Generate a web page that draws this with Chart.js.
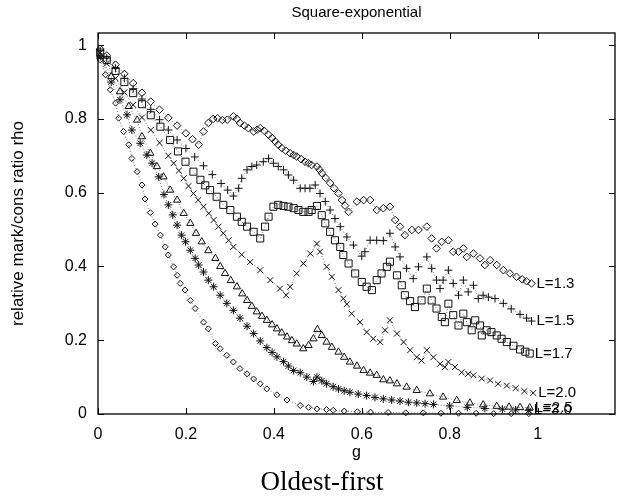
<!DOCTYPE html>
<html>
<head>
<meta charset="utf-8">
<script src="https://cdn.jsdelivr.net/npm/chart.js@4.4.1/dist/chart.umd.min.js"></script>
<style>
  html, body { margin: 0; padding: 0; background: #fff; }
  #wrap { width: 621px; height: 502px; }
</style>
</head>
<body>
<div id="wrap"><canvas id="chart" width="621" height="502"></canvas></div>
<script>
// values: [g, rho]
const l13 = [[0.005,0.99],[0.02,0.972],[0.04,0.947],[0.06,0.922],[0.08,0.897],[0.1,0.871],[0.12,0.847],[0.14,0.825],[0.16,0.803],[0.18,0.782],[0.2,0.761],[0.215,0.745],[0.229,0.73],
  [0.24,0.766],[0.251,0.789],[0.262,0.8],[0.272,0.802],[0.283,0.797],[0.294,0.798],[0.308,0.807],[0.316,0.8],[0.323,0.789],[0.333,0.782],[0.342,0.775],[0.354,0.766],[0.362,0.771],[0.369,0.775],[0.378,0.768],[0.388,0.757],[0.396,0.748],[0.403,0.739],[0.41,0.73],[0.418,0.721],[0.427,0.714],[0.437,0.707],[0.445,0.702],[0.452,0.698],[0.462,0.691],[0.471,0.684],[0.479,0.68],[0.486,0.675],[0.498,0.671],[0.504,0.662],[0.509,0.653],[0.518,0.64],[0.528,0.626],[0.537,0.612],[0.547,0.598],[0.555,0.58],[0.562,0.565],[0.57,0.548],
  [0.589,0.576],[0.604,0.58],[0.619,0.58],[0.634,0.553],[0.649,0.558],[0.664,0.562],[0.676,0.526],[0.687,0.508],[0.698,0.485],[0.714,0.499],[0.729,0.499],[0.748,0.508],[0.759,0.476],[0.77,0.449],[0.782,0.467],[0.797,0.471],[0.808,0.44],[0.82,0.44],[0.831,0.449],[0.839,0.426],[0.854,0.435],[0.869,0.422],[0.88,0.404],[0.892,0.417],[0.907,0.404],[0.922,0.39],[0.937,0.381],[0.952,0.372],[0.965,0.365],[0.975,0.36],[0.986,0.354]];

const l15 = [[0.005,0.985],[0.02,0.965],[0.04,0.937],[0.06,0.91],[0.08,0.882],[0.1,0.854],[0.12,0.826],[0.14,0.798],[0.16,0.77],[0.18,0.743],[0.2,0.72],[0.22,0.697],[0.24,0.673],[0.26,0.649],[0.28,0.625],[0.295,0.607],[0.308,0.591],
  [0.32,0.612],[0.327,0.639],[0.339,0.662],[0.35,0.671],[0.361,0.675],[0.376,0.684],[0.388,0.693],[0.399,0.68],[0.41,0.671],[0.422,0.662],[0.433,0.648],[0.445,0.634],[0.46,0.612],[0.471,0.612],[0.482,0.612],[0.494,0.621],[0.505,0.598],[0.517,0.576],[0.528,0.553],[0.539,0.53],[0.551,0.508],[0.566,0.48],[0.581,0.458],[0.6,0.428],
  [0.607,0.44],[0.619,0.471],[0.634,0.471],[0.649,0.47],[0.664,0.49],[0.676,0.453],[0.687,0.426],[0.702,0.395],[0.717,0.367],[0.729,0.399],[0.748,0.426],[0.759,0.395],[0.77,0.363],[0.778,0.34],[0.785,0.363],[0.797,0.39],[0.808,0.354],[0.82,0.322],[0.831,0.363],[0.842,0.331],[0.854,0.349],[0.865,0.313],[0.876,0.322],[0.888,0.317],[0.903,0.313],[0.922,0.3],[0.94,0.285],[0.96,0.27],[0.975,0.26],[0.986,0.252]];

const l17 = [[0.005,0.98],[0.02,0.96],[0.04,0.93],[0.06,0.9],[0.08,0.87],[0.1,0.84],[0.12,0.81],[0.142,0.779],[0.164,0.743],[0.182,0.712],[0.199,0.684],[0.217,0.657],[0.233,0.635],[0.244,0.62],[0.255,0.607],[0.27,0.589],[0.285,0.567],[0.301,0.553],[0.316,0.535],[0.327,0.521],[0.339,0.508],[0.354,0.494],[0.369,0.476],
  [0.38,0.508],[0.388,0.535],[0.399,0.562],[0.41,0.567],[0.422,0.564],[0.433,0.562],[0.445,0.558],[0.456,0.553],[0.467,0.548],[0.479,0.548],[0.486,0.553],[0.498,0.564],[0.509,0.539],[0.517,0.517],[0.528,0.494],[0.539,0.471],[0.551,0.453],[0.558,0.431],[0.57,0.408],[0.585,0.381],[0.6,0.358],[0.611,0.345],[0.623,0.336],
  [0.634,0.363],[0.645,0.381],[0.657,0.399],[0.664,0.413],[0.68,0.376],[0.691,0.349],[0.698,0.322],[0.71,0.306],[0.721,0.29],[0.736,0.308],[0.748,0.34],[0.759,0.308],[0.77,0.286],[0.782,0.263],[0.789,0.249],[0.797,0.299],[0.808,0.268],[0.82,0.24],[0.831,0.272],[0.839,0.249],[0.85,0.227],[0.858,0.254],[0.869,0.24],[0.873,0.213],[0.884,0.227],[0.895,0.222],[0.907,0.213],[0.918,0.204],[0.93,0.195],[0.945,0.185],[0.96,0.175],[0.972,0.169],[0.982,0.164]];

const l20 = [[0.005,0.98],[0.02,0.95],[0.04,0.91],[0.06,0.872],[0.08,0.838],[0.1,0.804],[0.12,0.77],[0.14,0.735],[0.16,0.7],[0.172,0.68],[0.184,0.66],[0.195,0.639],[0.206,0.618],[0.217,0.598],[0.228,0.58],[0.24,0.562],[0.252,0.544],[0.263,0.526],[0.274,0.508],[0.285,0.49],[0.297,0.471],[0.308,0.453],[0.327,0.432],[0.346,0.412],[0.369,0.39],[0.392,0.363],[0.414,0.34],[0.428,0.322],
  [0.437,0.345],[0.452,0.381],[0.467,0.408],[0.483,0.435],[0.498,0.462],[0.505,0.44],[0.52,0.399],[0.532,0.372],[0.547,0.336],[0.558,0.313],[0.566,0.298],[0.577,0.272],[0.596,0.249],[0.611,0.222],[0.626,0.204],[0.642,0.195],[0.653,0.227],[0.664,0.254],[0.68,0.218],[0.695,0.195],[0.71,0.173],[0.725,0.154],[0.736,0.145],[0.748,0.173],[0.763,0.154],[0.778,0.136],[0.789,0.127],[0.797,0.141],[0.812,0.127],[0.827,0.113],[0.842,0.109],[0.854,0.105],[0.873,0.096],[0.892,0.091],[0.91,0.082],[0.93,0.077],[0.95,0.07],[0.97,0.062],[0.99,0.057]];

const l25 = [[0.005,0.97],[0.03,0.915],[0.05,0.874],[0.07,0.834],[0.089,0.797],[0.1,0.752],[0.119,0.707],[0.134,0.671],[0.149,0.643],[0.164,0.607],[0.18,0.58],[0.195,0.544],[0.21,0.517],[0.223,0.49],[0.236,0.467],[0.251,0.443],[0.267,0.422],[0.278,0.4],[0.289,0.381],[0.302,0.362],[0.316,0.345],[0.328,0.326],[0.339,0.308],[0.35,0.292],[0.361,0.277],[0.373,0.265],[0.384,0.254],[0.396,0.242],[0.407,0.231],[0.418,0.22],[0.43,0.209],[0.441,0.199],[0.452,0.19],[0.467,0.177],
  [0.479,0.186],[0.49,0.204],[0.499,0.229],[0.509,0.213],[0.52,0.195],[0.532,0.181],[0.547,0.168],[0.56,0.154],[0.573,0.141],[0.589,0.13],[0.604,0.118],[0.619,0.111],[0.634,0.105],[0.649,0.093],[0.664,0.09],[0.68,0.082],[0.702,0.073],[0.725,0.064],[0.755,0.055],[0.785,0.046],[0.816,0.037],[0.846,0.03],[0.876,0.025],[0.907,0.021],[0.935,0.019],[0.96,0.018],[0.982,0.017]];

const l30 = [[0.005,0.97],[0.03,0.9],[0.05,0.852],[0.066,0.811],[0.077,0.77],[0.096,0.734],[0.111,0.702],[0.123,0.68],[0.138,0.643],[0.15,0.595],[0.16,0.567],[0.17,0.54],[0.18,0.512],[0.19,0.485],[0.199,0.467],[0.21,0.444],[0.221,0.422],[0.229,0.404],[0.24,0.385],[0.251,0.363],[0.263,0.345],[0.278,0.322],[0.293,0.3],[0.308,0.281],[0.323,0.26],[0.339,0.238],[0.354,0.218],[0.369,0.198],[0.384,0.18],[0.396,0.167],[0.407,0.155],[0.422,0.142],[0.433,0.13],[0.445,0.118],[0.46,0.112],[0.475,0.1],[0.49,0.088],
  [0.498,0.1],[0.509,0.09],[0.52,0.082],[0.535,0.074],[0.547,0.068],[0.56,0.063],[0.573,0.059],[0.592,0.054],[0.611,0.05],[0.63,0.045],[0.649,0.041],[0.668,0.038],[0.687,0.035],[0.706,0.032],[0.725,0.03],[0.744,0.028],[0.763,0.026],[0.8,0.022],[0.84,0.018],[0.88,0.015],[0.92,0.013],[0.95,0.011],[0.98,0.01]];

const l40 = [[0.005,0.96],[0.017,0.92],[0.028,0.879],[0.04,0.843],[0.047,0.802],[0.058,0.766],[0.07,0.73],[0.077,0.693],[0.089,0.657],[0.1,0.621],[0.107,0.583],[0.119,0.546],[0.13,0.515],[0.142,0.485],[0.153,0.453],[0.16,0.431],[0.172,0.399],[0.18,0.376],[0.187,0.354],[0.198,0.336],[0.21,0.308],[0.221,0.286],[0.24,0.249],[0.251,0.231],[0.267,0.191],[0.278,0.177],[0.293,0.159],[0.308,0.141],[0.323,0.123],[0.339,0.109],[0.354,0.095],[0.369,0.082],[0.384,0.068],[0.407,0.052],[0.43,0.038],[0.46,0.023],[0.479,0.018],[0.498,0.014],[0.52,0.012],[0.535,0.01],[0.56,0.008],[0.59,0.006],[0.62,0.005],[0.66,0.004],[0.7,0.003],[0.74,0.003],[0.78,0.002],[0.82,0.002],[0.86,0.002],[0.9,0.001],[0.94,0.001],[0.98,0.001]];

const seriesData = [l13, l15, l17, l20, l25, l30, l40];
const seriesLabels = ["L=1.3", "L=1.5", "L=1.7", "L=2.0", "L=2.5", "L=3.0", ""];
const pointStyles = ["rectRot", "cross", "rect", "crossRot", "triangle", "star", "rectRot"];
const pointSizes = [3.8, 4, 5, 4.2, 4.2, 4, 3];

const xTickVals = [0, 0.2, 0.4, 0.6, 0.8, 1];
const xTickLabels = ["0", "0.2", "0.4", "0.6", "0.8", "1"];
const yTickVals = [0, 0.2, 0.4, 0.6, 0.8, 1];
const yTickLabels = ["0", "0.2", "0.4", "0.6", "0.8", "1"];

const sans = "'Liberation Sans', Arial, sans-serif";
const serif = "'Liberation Serif', 'Times New Roman', serif";

// box, inward tick marks, title, caption and the curve names
const framePlugin = {
  id: "frame",
  afterDraw(chart) {
    const { ctx, chartArea: a, scales } = chart;
    ctx.save();
    ctx.strokeStyle = "#000";
    ctx.lineWidth = 1.3;
    ctx.strokeRect(a.left, a.top, a.right - a.left, a.bottom - a.top);
    ctx.lineWidth = 1;
    ctx.beginPath();
    xTickVals.forEach((v) => {
      const px = Math.round(scales.x.getPixelForValue(v)) + 0.5;
      ctx.moveTo(px, a.bottom); ctx.lineTo(px, a.bottom - 6);
      ctx.moveTo(px, a.top); ctx.lineTo(px, a.top + 6);
    });
    yTickVals.forEach((v) => {
      const py = Math.round(scales.y.getPixelForValue(v)) + 0.5;
      ctx.moveTo(a.left, py); ctx.lineTo(a.left + 6, py);
      ctx.moveTo(a.right, py); ctx.lineTo(a.right - 6, py);
    });
    ctx.stroke();

    ctx.fillStyle = "#000";
    ctx.textAlign = "center";
    ctx.textBaseline = "middle";
    ctx.font = "15px " + sans;
    ctx.fillText("Square-exponential", (a.left + a.right) / 2, 13);
    ctx.font = "27px " + serif;
    ctx.fillText("Oldest-first", 322, 483);

    ctx.font = "15px " + sans;
    ctx.textAlign = "left";
    chart.data.datasets.forEach((ds, i) => {
      if (!seriesLabels[i]) return;
      const pts = chart.getDatasetMeta(i).data;
      const last = pts[pts.length - 1];
      ctx.fillText(seriesLabels[i], last.x + 5, last.y);
    });
    ctx.restore();
  },
};

new Chart(document.getElementById("chart"), {
  type: "scatter",
  data: {
    datasets: seriesData.map((d, i) => ({
      label: seriesLabels[i],
      data: d.map(([x, y]) => ({ x, y })),
      showLine: true,
      borderColor: "#555",
      borderWidth: 0.8,
      borderDash: [1, 2],
      pointStyle: pointStyles[i],
      pointRadius: pointSizes[i],
      pointBorderColor: "#111",
      pointBorderWidth: 1,
      pointBackgroundColor: "rgba(0,0,0,0)",
      clip: false,
    })),
  },
  options: {
    responsive: false,
    animation: false,
    layout: { padding: { left: 0, right: 6, top: 33, bottom: 34 } },
    plugins: {
      legend: { display: false },
      tooltip: { enabled: false },
      title: { display: false },
    },
    scales: {
      x: {
        type: "linear",
        min: 0,
        max: 1.176,
        afterBuildTicks: (s) => { s.ticks = xTickVals.map((v) => ({ value: v })); },
        afterFit: (s) => { s.height = 54; },
        grid: { display: false, drawTicks: false },
        border: { display: false },
        ticks: {
          autoSkip: false,
          maxRotation: 0,
          padding: 11,
          color: "#000",
          font: { family: sans, size: 16 },
          callback: (v) => xTickLabels[xTickVals.indexOf(v)],
        },
        title: {
          display: true,
          text: "g",
          color: "#000",
          font: { family: sans, size: 16 },
          padding: { top: 0, bottom: 6 },
        },
      },
      y: {
        type: "linear",
        min: 0,
        max: 1.033,
        afterBuildTicks: (s) => { s.ticks = yTickVals.map((v) => ({ value: v })); },
        afterFit: (s) => { s.width = 98; },
        grid: { display: false, drawTicks: false },
        border: { display: false },
        ticks: {
          autoSkip: false,
          padding: 11,
          color: "#000",
          font: { family: sans, size: 16 },
          callback: (v) => yTickLabels[yTickVals.indexOf(v)],
        },
        title: {
          display: true,
          text: "relative mark/cons ratio rho",
          color: "#000",
          font: { family: sans, size: 17 },
          padding: { top: 8, bottom: 0 },
        },
      },
    },
  },
  plugins: [framePlugin],
});
</script>
</body>
</html>
